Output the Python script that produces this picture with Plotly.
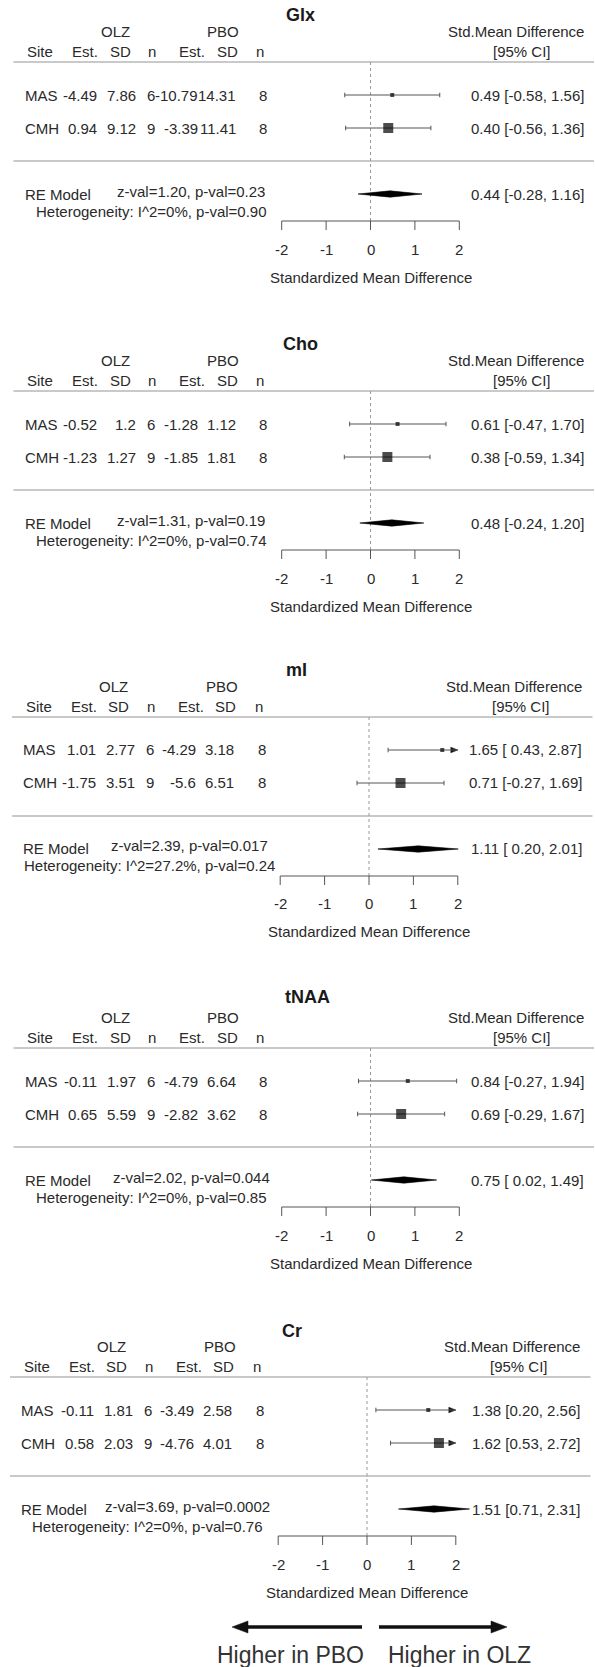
import plotly.graph_objects as go

# ---------------- data ----------------
metabolites = ["Glx", "Cho", "mI", "tNAA", "Cr"]
sites = ["MAS", "CMH"]

olz_est = [[-4.49, 0.94], [-0.52, -1.23], [1.01, -1.75], [-0.11, 0.65], [-0.11, 0.58]]
olz_sd = [[7.86, 9.12], [1.2, 1.27], [2.77, 3.51], [1.97, 5.59], [1.81, 2.03]]
olz_n = [[6, 9], [6, 9], [6, 9], [6, 9], [6, 9]]
pbo_est = [[-10.79, -3.39], [-1.28, -1.85], [-4.29, -5.6], [-4.79, -2.82], [-3.49, -4.76]]
pbo_sd = [[14.31, 11.41], [1.12, 1.81], [3.18, 6.51], [6.64, 3.62], [2.58, 4.01]]
pbo_n = [[8, 8], [8, 8], [8, 8], [8, 8], [8, 8]]

smd = [[0.49, 0.40], [0.61, 0.38], [1.65, 0.71], [0.84, 0.69], [1.38, 1.62]]
smd_lo = [[-0.58, -0.56], [-0.47, -0.59], [0.43, -0.27], [-0.27, -0.29], [0.20, 0.53]]
smd_hi = [[1.56, 1.36], [1.70, 1.34], [2.87, 1.69], [1.94, 1.67], [2.56, 2.72]]

re_est = [0.44, 0.48, 1.11, 0.75, 1.51]
re_lo = [-0.28, -0.24, 0.20, 0.02, 0.71]
re_hi = [1.16, 1.20, 2.01, 1.49, 2.31]
re_z = ["1.20", "1.31", "2.39", "2.02", "3.69"]
re_p = ["0.23", "0.19", "0.017", "0.044", "0.0002"]
het_i2 = ["0%", "0%", "27.2%", "0%", "0%"]
het_p = ["0.90", "0.74", "0.24", "0.85", "0.76"]

axis_ticks = [-2, -1, 0, 1, 2]
axis_title = "Standardized Mean Difference"

# ---------------- layout constants ----------------
W, H = 595, 1667
PX_PER_UNIT = 44.4
ZERO_PX = [370.5, 370.5, 369.0, 370.5, 367.0]   # pixel column of x = 0 in each panel
PANEL_TOP = [0, 329, 655, 986, 1315]
PANEL_H = 326
ROW_PX = 33
SEP_PX = 62          # local pixel row of the upper separator (row 3)
ALIM = (-2, 2)

TEXT = "#2a2a2a"
FONT = "Liberation Sans, Arial, Helvetica, sans-serif"
FS = 15


def row_at(local_px):
    return 3 + (SEP_PX - local_px) / ROW_PX


R_TOP, R_BOT = row_at(0), row_at(PANEL_H)
R_HEAD1, R_HEAD2 = row_at(31.5), row_at(51.5)
R_ZVAL, R_HET = row_at(191), row_at(211)
R_AXIS, R_TICK = row_at(221), row_at(230)
R_TICKLAB, R_AXTITLE = row_at(249), row_at(277)
TITLE_LOCAL = [15, 15, 15, 11, 16]
TITLE_PX = [300, 300, 298, 307, 295]


def fmt_ci(est, lo, hi, lo_w, hi_w):
    return f"{est:.2f} [{f'{lo:.2f}'.rjust(lo_w)}, {f'{hi:.2f}'.rjust(hi_w)}]"


fig = go.Figure()
annotations = []
shapes = []
layout_axes = {}

for i, name in enumerate(metabolites):
    shift = ZERO_PX[i] - 370.5
    xref = "x" if i == 0 else f"x{i + 1}"
    yref = "y" if i == 0 else f"y{i + 1}"

    def X(px, i=i):
        return (px - ZERO_PX[i]) / PX_PER_UNIT

    def P(px, shift=shift):
        return px + shift

    top = PANEL_TOP[i]
    layout_axes["xaxis" if i == 0 else f"xaxis{i + 1}"] = dict(
        domain=[0, 1], range=[X(0), X(W)], visible=False, fixedrange=True, anchor=yref)
    layout_axes["yaxis" if i == 0 else f"yaxis{i + 1}"] = dict(
        domain=[1 - (top + PANEL_H) / H, 1 - top / H], range=[R_BOT, R_TOP],
        visible=False, fixedrange=True, anchor=xref)

    def txt(px, r, s, anchor="left", size=FS, color=TEXT):
        annotations.append(dict(xref=xref, yref=yref, x=X(P(px)), y=r, text=s,
                                showarrow=False, xanchor=anchor, yanchor="middle", borderpad=0,
                                font=dict(family=FONT, size=size, color=color)))

    # separators
    for r in (3, 0):
        fig.add_trace(go.Scatter(x=[X(P(13.5)), X(P(594))], y=[r, r], mode="lines",
                                 line=dict(color="#c9c9c9", width=1.8),
                                 xaxis=xref, yaxis=yref, hoverinfo="skip", showlegend=False))
    # dotted reference line at zero
    fig.add_trace(go.Scatter(x=[0, 0], y=[3, R_AXIS], mode="lines",
                             line=dict(color="#9a9a9a", width=1, dash="dot"),
                             xaxis=xref, yaxis=yref, hoverinfo="skip", showlegend=False))

    # x axis drawn across the axis limits
    ax_x, ax_y = [ALIM[0], ALIM[1], None], [R_AXIS, R_AXIS, None]
    for t in axis_ticks:
        ax_x += [t, t, None]
        ax_y += [R_AXIS, R_TICK, None]
        txt(370.5 + t * PX_PER_UNIT, R_TICKLAB, f"{t}", anchor="center")
    fig.add_trace(go.Scatter(x=ax_x, y=ax_y, mode="lines", line=dict(color="#555", width=1),
                             xaxis=xref, yaxis=yref, hoverinfo="skip", showlegend=False))
    txt(370.5, R_AXTITLE, axis_title, anchor="center")

    # title and headers
    annotations.append(dict(xref=xref, yref=yref, x=X(P(TITLE_PX[i])), y=row_at(TITLE_LOCAL[i]),
                            text=f"<b>{name}</b>", showarrow=False, xanchor="center",
                            yanchor="middle", font=dict(family=FONT, size=18, color="#1a1a1a")))
    txt(115, R_HEAD1, "OLZ", "center")
    txt(223, R_HEAD1, "PBO", "center")
    txt(584.5, R_HEAD1, "Std.Mean Difference", "right")
    for px, s in [(40, "Site"), (85, "Est."), (120, "SD"), (152, "n"),
                  (192, "Est."), (227, "SD"), (260, "n")]:
        txt(px, R_HEAD2, s, "center")
    txt(522, R_HEAD2, "[95% CI]", "center")

    # study rows
    lows = [f"{v:.2f}" for v in smd_lo[i]] + [f"{re_lo[i]:.2f}"]
    highs = [f"{v:.2f}" for v in smd_hi[i]] + [f"{re_hi[i]:.2f}"]
    lo_w, hi_w = max(map(len, lows)), max(map(len, highs))

    ci_x, ci_y, cap_x, cap_y = [], [], [], []
    for j, site in enumerate(sites):
        r = 2 - j
        txt(23.5, r, site, "left")
        txt(98, r, str(olz_est[i][j]), "right")
        txt(137, r, str(olz_sd[i][j]), "right")
        txt(151, r, str(olz_n[i][j]), "center")
        txt(198.5, r, str(pbo_est[i][j]), "right")
        txt(236.5, r, str(pbo_sd[i][j]), "right")
        txt(263, r, str(pbo_n[i][j]), "center")
        txt(584.5, r, fmt_ci(smd[i][j], smd_lo[i][j], smd_hi[i][j], lo_w, hi_w), "right")

        lo, hi = smd_lo[i][j], smd_hi[i][j]
        lo_c, hi_c = max(lo, ALIM[0]), min(hi, ALIM[1])
        ci_x += [lo_c, hi_c, None]
        ci_y += [r, r, None]
        if lo >= ALIM[0]:
            cap_x += [lo, lo, None]
            cap_y += [r - 0.07, r + 0.07, None]
        if hi <= ALIM[1]:
            cap_x += [hi, hi, None]
            cap_y += [r - 0.07, r + 0.07, None]
        else:
            head = 7 / PX_PER_UNIT
            fig.add_trace(go.Scatter(x=[ALIM[1] - head, ALIM[1], ALIM[1] - head, ALIM[1] - head],
                                     y=[r + 0.085, r, r - 0.085, r + 0.085], mode="lines",
                                     fill="toself", fillcolor="#111", line=dict(color="#111", width=0.5),
                                     xaxis=xref, yaxis=yref, hoverinfo="skip", showlegend=False))
    fig.add_trace(go.Scatter(x=ci_x, y=ci_y, mode="lines", line=dict(color="#555", width=1),
                             xaxis=xref, yaxis=yref, hoverinfo="skip", showlegend=False))
    fig.add_trace(go.Scatter(x=cap_x, y=cap_y, mode="lines", line=dict(color="#555", width=1),
                             xaxis=xref, yaxis=yref, hoverinfo="skip", showlegend=False))
    fig.add_trace(go.Scatter(x=smd[i], y=[2, 1], mode="markers",
                             marker=dict(symbol="square", size=[4, 10], color="#000",
                                         line=dict(width=0)),
                             xaxis=xref, yaxis=yref, hoverinfo="skip", showlegend=False))

    # random-effects summary
    h = 0.095
    fig.add_trace(go.Scatter(x=[re_lo[i], re_est[i], re_hi[i], re_est[i], re_lo[i]],
                             y=[-1, -1 + h, -1, -1 - h, -1], mode="lines", fill="toself",
                             fillcolor="#000", line=dict(color="#000", width=0.6),
                             xaxis=xref, yaxis=yref, hoverinfo="skip", showlegend=False))
    txt(23.5, -1, "RE Model", "left")
    txt(191, R_ZVAL, f"z-val={re_z[i]}, p-val={re_p[i]}", "center")
    txt(151, R_HET, f"Heterogeneity: I^2={het_i2[i]}, p-val={het_p[i]}", "center")
    txt(584.5, -1, fmt_ci(re_est[i], re_lo[i], re_hi[i], lo_w, hi_w), "right")


# direction arrows under the last panel
def pp(px, py):
    return px / W, 1 - py / H


ARROW_Y = 1627
for tail, tip in [(362, 232), (379, 507)]:
    d = 1 if tip > tail else -1
    base = tip - d * 16
    x1, y1 = pp(tail, ARROW_Y)
    x2, _ = pp(base, ARROW_Y)
    shapes.append(dict(type="line", xref="paper", yref="paper", x0=x1, y0=y1, x1=x2, y1=y1,
                       line=dict(color="#111", width=3.5)))
    a = pp(tip, ARROW_Y)
    b = pp(base, ARROW_Y - 6)
    c = pp(base, ARROW_Y + 6)
    shapes.append(dict(type="path", xref="paper", yref="paper",
                       path=f"M {a[0]},{a[1]} L {b[0]},{b[1]} L {c[0]},{c[1]} Z",
                       fillcolor="#111", line=dict(color="#111", width=0.5)))

for px, s in [(290.5, "Higher in PBO"), (459.5, "Higher in OLZ")]:
    x, y = pp(px, 1655)
    annotations.append(dict(xref="paper", yref="paper", x=x, y=y, text=s, showarrow=False,
                            xanchor="center", yanchor="middle",
                            font=dict(family=FONT, size=23, color="#333")))

fig.update_layout(width=W, height=H, margin=dict(l=0, r=0, t=0, b=0),
                  paper_bgcolor="white", plot_bgcolor="rgba(0,0,0,0)",
                  showlegend=False, annotations=annotations, shapes=shapes, **layout_axes)

fig.write_html("out.html")
